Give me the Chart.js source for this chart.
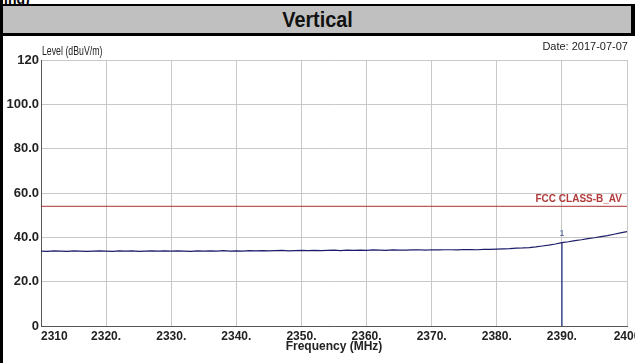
<!DOCTYPE html>
<html>
<head>
<meta charset="utf-8">
<script src="https://cdn.jsdelivr.net/npm/chart.js@4.4.1/dist/chart.umd.min.js"></script>
<style>
  html, body { margin: 0; padding: 0; background: #fff; }
  body { width: 635px; height: 363px; position: relative; overflow: hidden; font-family: "Liberation Sans", Arial, sans-serif; }
  #cut { position: absolute; left: 4px; top: -9px; font-weight: bold; font-size: 14px; color: #000; }
  #topline { position: absolute; left: 0; top: 4px; width: 635px; height: 2px; background: #000; }
  #band { position: absolute; left: 0; top: 6px; width: 635px; height: 27px; background: #c0c0c0; }
  #band span { position: absolute; left: 0; right: 0; top: 1px; text-align: center; font-weight: bold; font-size: 22px; color: #111; transform: scaleX(0.9); }
  #midline { position: absolute; left: 0; top: 33px; width: 635px; height: 3px; background: #000; }
  #leftbar { position: absolute; left: 0; top: 0; width: 3px; height: 363px; background: #000; z-index: 5; }
  #rightbar { position: absolute; right: 0; top: 4px; width: 4px; height: 32px; background: #000; }
  #ytitle { position: absolute; left: 42px; top: 44px; font-size: 12px; color: #222; transform: scaleX(0.73); transform-origin: left top; white-space: nowrap; }
  #date { position: absolute; right: 7px; top: 40px; font-size: 11px; color: #222; }
  canvas { position: absolute; left: 0; top: 36px; }
</style>
</head>
<body>
<div id="cut">ing)</div>
<div id="topline"></div>
<div id="band"><span>Vertical</span></div>
<div id="midline"></div>
<div id="rightbar"></div>
<div id="leftbar"></div>
<canvas id="grafico" width="635" height="327"></canvas>
<div id="ytitle">Level (dBuV/m)</div>
<div id="date">Date: 2017-07-07</div>
<script>
// frequencias (MHz), passo de 1 MHz
const frequencias = [
  2310, 2311, 2312, 2313, 2314, 2315, 2316, 2317, 2318, 2319,
  2320, 2321, 2322, 2323, 2324, 2325, 2326, 2327, 2328, 2329,
  2330, 2331, 2332, 2333, 2334, 2335, 2336, 2337, 2338, 2339,
  2340, 2341, 2342, 2343, 2344, 2345, 2346, 2347, 2348, 2349,
  2350, 2351, 2352, 2353, 2354, 2355, 2356, 2357, 2358, 2359,
  2360, 2361, 2362, 2363, 2364, 2365, 2366, 2367, 2368, 2369,
  2370, 2371, 2372, 2373, 2374, 2375, 2376, 2377, 2378, 2379,
  2380, 2381, 2382, 2383, 2384, 2385, 2386, 2387, 2388, 2389,
  2390, 2391, 2392, 2393, 2394, 2395, 2396, 2397, 2398, 2399, 2400
];

// nivel medido (dBuV/m)
const nivel = [
  33.8, 33.7, 33.9, 33.8, 33.7, 33.9, 33.8, 33.7, 33.8, 33.9,
  33.8, 33.7, 33.9, 33.8, 33.9, 33.7, 33.8, 33.9, 33.8, 33.9,
  33.8, 33.9, 33.8, 33.7, 33.9, 33.8, 33.9, 33.8, 34.0, 33.8,
  33.9, 33.8, 34.0, 33.9, 34.0, 33.9, 34.0, 34.1, 33.9, 34.0,
  34.1, 34.0, 34.1, 34.0, 34.1, 34.2, 34.0, 34.2, 34.1, 34.2,
  34.1, 34.3, 34.2, 34.1, 34.3, 34.2, 34.2, 34.3, 34.4, 34.2,
  34.4, 34.3, 34.4, 34.4, 34.3, 34.5, 34.5, 34.4, 34.6, 34.6,
  34.7, 34.8, 34.9, 35.1, 35.2, 35.4, 35.7, 36.1, 36.5, 37.0,
  37.6, 38.0, 38.5, 38.9, 39.4, 39.8, 40.3, 40.8, 41.4, 42.0, 42.6
];

const limiteFreq = [2310, 2400];
const limiteNivel = [54, 54];
const limiteNome = 'FCC CLASS-B_AV';

const marcadorFreq = 2390;
const marcadorNivel = 37.6;
const marcadorNome = '1';

const ticksY = [0, 20, 40, 60, 80, 100, 120];
const ticksX = [2310, 2320, 2330, 2340, 2350, 2360, 2370, 2380, 2390, 2400];

const pontosTraco = frequencias.map((f, i) => ({ x: f, y: nivel[i] }));
const pontosLimite = limiteFreq.map((f, i) => ({ x: f, y: limiteNivel[i] }));
const pontosMarcador = [{ x: marcadorFreq, y: 0 }, { x: marcadorFreq, y: marcadorNivel }];

const textosExtras = {
  id: 'textosExtras',
  afterDatasetsDraw(chart) {
    const ctx = chart.ctx;
    const x = chart.scales.x;
    const y = chart.scales.y;
    ctx.save();
    ctx.fillStyle = '#b23a3a';
    ctx.font = 'bold 10px "Liberation Sans", Arial, sans-serif';
    ctx.textAlign = 'right';
    ctx.textBaseline = 'bottom';
    ctx.fillText(limiteNome, chart.chartArea.right - 5, y.getPixelForValue(limiteNivel[1]) - 2);
    ctx.fillStyle = '#4a5a9a';
    ctx.font = '9px "Liberation Sans", Arial, sans-serif';
    ctx.textAlign = 'center';
    ctx.fillText(marcadorNome, x.getPixelForValue(marcadorFreq), y.getPixelForValue(marcadorNivel) - 5);
    ctx.restore();
  }
};

const grafico = new Chart(document.getElementById('grafico'), {
  type: 'line',
  data: {
    datasets: [
      {
        label: 'Nivel',
        data: pontosTraco,
        borderColor: '#1c1c6a',
        borderWidth: 1.2,
        pointRadius: 0,
        tension: 0
      },
      {
        label: limiteNome,
        data: pontosLimite,
        borderColor: '#b03030',
        borderWidth: 1,
        pointRadius: 0
      },
      {
        label: 'Marcador',
        data: pontosMarcador,
        borderColor: '#3a4a8a',
        borderWidth: 1.5,
        pointRadius: 0
      }
    ]
  },
  options: {
    responsive: false,
    animation: false,
    devicePixelRatio: 1,
    layout: { padding: { top: 24, right: 8, left: 0, bottom: 0 } },
    plugins: {
      legend: { display: false },
      tooltip: { enabled: false }
    },
    scales: {
      x: {
        type: 'linear',
        min: 2310,
        max: 2400,
        afterBuildTicks: (s) => { s.ticks = ticksX.map(v => ({ value: v })); },
        afterFit: (s) => { s.height = 37; s.paddingLeft = 0; s.paddingRight = 0; },
        ticks: {
          padding: 3,
          maxRotation: 0,
          autoSkip: false,
          color: '#222',
          font: { family: '"Liberation Sans", Arial, sans-serif', size: 12, weight: 'bold' },
          callback: (v) => v === 2310 ? '\u2007\u2007\u2007\u20072310' : (v === 2400 ? '2400' : v + '.')
        },
        grid: { color: '#c8c8c8', drawTicks: false },
        border: { color: '#555', width: 1 },
        title: {
          display: true,
          text: 'Frequency (MHz)',
          color: '#222',
          padding: { top: 0, bottom: 9 },
          font: { family: '"Liberation Sans", Arial, sans-serif', size: 12, weight: 'bold' }
        }
      },
      y: {
        min: 0,
        max: 120,
        afterBuildTicks: (s) => { s.ticks = ticksY.map(v => ({ value: v })); },
        afterFit: (s) => { s.width = 41; s.paddingTop = 0; s.paddingBottom = 0; },
        ticks: {
          padding: 2,
          color: '#222',
          font: { family: '"Liberation Sans", Arial, sans-serif', size: 13, weight: 'bold' },
          callback: (v) => (v === 0 || v === 120) ? String(v) : v.toFixed(1)
        },
        grid: { color: '#c8c8c8', drawTicks: false },
        border: { color: '#555', width: 1 }
      }
    }
  },
  plugins: [textosExtras]
});
</script>
</body>
</html>
